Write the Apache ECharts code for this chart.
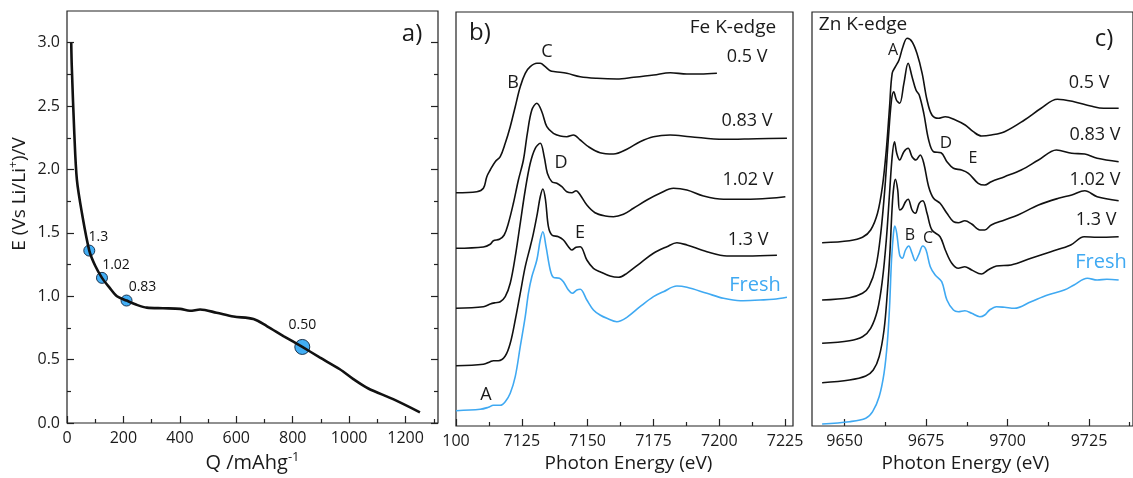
<!DOCTYPE html>
<html>
<head>
<meta charset="utf-8">
<script src="https://cdn.jsdelivr.net/npm/echarts@6/dist/echarts.min.js"></script>
<style>
  html, body { margin: 0; padding: 0; background: #fff; }
  #chart { width: 1133px; height: 478px; }
</style>
</head>
<body>
<div id="chart"></div>
<script>
// ---- a) discharge curve ----
var dischargeCurve = [
  [15, 3.0], [17, 2.81], [26, 2.28], [35, 1.92], [53, 1.655], [79, 1.36], [100, 1.24],
  [124, 1.145], [150, 1.07], [177, 1.0], [211, 0.966], [250, 0.93], [283, 0.91], [340, 0.905],
  [401, 0.9], [436, 0.885], [472, 0.895], [530, 0.87], [590, 0.84], [661, 0.82], [708, 0.765],
  [767, 0.686], [834, 0.6], [897, 0.516], [967, 0.424], [1015, 0.346], [1068, 0.272],
  [1156, 0.188], [1251, 0.084]
];
var markerQ = [79, 124, 211, 834];
var markerE = [1.36, 1.145, 0.966, 0.6];
var markerLabels = ['1.3', '1.02', '0.83', '0.50'];
var qTicks = [0, 200, 400, 600, 800, 1000, 1200];
var eTicks = [0, 0.5, 1.0, 1.5, 2.0, 2.5, 3.0];

// ---- b) Fe K-edge ----
var fe05 = [
  [7100, 2.333], [7107.9, 2.343], [7110.4, 2.377], [7111.7, 2.493], [7113, 2.56], [7114.9, 2.643],
  [7116.8, 2.693], [7118.7, 2.827], [7120.6, 2.993], [7122.5, 3.193], [7124.4, 3.393],
  [7126.3, 3.527], [7128.2, 3.593], [7130.7, 3.627], [7132, 3.627], [7133.9, 3.593],
  [7135.8, 3.553], [7137.7, 3.543], [7142.1, 3.527], [7147.2, 3.493], [7153.5, 3.477],
  [7161.1, 3.47], [7167.5, 3.487], [7175.1, 3.51], [7181.4, 3.533], [7187.7, 3.52],
  [7192.8, 3.52], [7199.1, 3.527]
];
var fe083 = [
  [7100, 1.777], [7110.4, 1.79], [7113, 1.817], [7114.2, 1.853], [7116.5, 1.867], [7118.3, 1.91],
  [7119.9, 2.027], [7121.8, 2.227], [7123.7, 2.46], [7125.6, 2.66], [7127.1, 2.927],
  [7128.8, 3.16], [7130.7, 3.227], [7132.6, 3.143], [7134.5, 2.993], [7137, 2.927],
  [7139.6, 2.9], [7142.1, 2.893], [7144.6, 2.91], [7147.2, 2.86], [7150.3, 2.793],
  [7154.7, 2.733], [7159.8, 2.72], [7164.9, 2.767], [7169.9, 2.843], [7175, 2.893],
  [7181.3, 2.91], [7188.9, 2.893], [7201.6, 2.867], [7214.3, 2.873], [7225.7, 2.877]
];
var fe102 = [
  [7100, 1.177], [7110.4, 1.193], [7113, 1.22], [7114.9, 1.233], [7116.8, 1.243], [7118.7, 1.293],
  [7120.6, 1.427], [7122.5, 1.693], [7124.4, 2.027], [7126.3, 2.36], [7128.2, 2.627],
  [7130.1, 2.777], [7132, 2.827], [7133.5, 2.693], [7134.7, 2.527], [7136.4, 2.443],
  [7138.3, 2.427], [7140.2, 2.393], [7142.1, 2.343], [7144, 2.333], [7145.6, 2.353],
  [7147.2, 2.31], [7149.7, 2.21], [7152.8, 2.133], [7156.7, 2.1], [7159.8, 2.093],
  [7163.6, 2.117], [7167.4, 2.177], [7172.5, 2.26], [7177.5, 2.327], [7182.6, 2.377],
  [7187.7, 2.36], [7194, 2.3], [7201.6, 2.267], [7214.3, 2.27], [7225.1, 2.293]
];
var fe13 = [
  [7100, 0.603], [7110.4, 0.617], [7113, 0.643], [7114.2, 0.653], [7116.1, 0.653], [7118.7, 0.7],
  [7120.6, 0.827], [7122.5, 1.06], [7124.4, 1.327], [7126.3, 1.593], [7128.2, 1.793],
  [7129.4, 1.927], [7130.9, 2.127], [7132, 2.293], [7133, 2.37], [7134, 2.26], [7135.1, 1.993],
  [7136.4, 1.91], [7138.9, 1.893], [7140.8, 1.86], [7142.7, 1.793], [7144, 1.76],
  [7145.6, 1.787], [7147.2, 1.793], [7149.7, 1.66], [7152.2, 1.577], [7154.7, 1.543],
  [7158.5, 1.5], [7161.7, 1.487], [7164.9, 1.527], [7169.9, 1.627], [7175, 1.727],
  [7180.1, 1.793], [7183.9, 1.833], [7187.7, 1.81], [7195.3, 1.743], [7202.9, 1.7],
  [7210.5, 1.7], [7221.9, 1.707]
];
var feFresh = [
  [7100, 0.153], [7109.2, 0.167], [7112.3, 0.187], [7114.2, 0.207], [7116.8, 0.207],
  [7118.7, 0.243], [7120.6, 0.327], [7122.5, 0.493], [7124.4, 0.793], [7126.3, 1.093],
  [7127.5, 1.327], [7128.8, 1.493], [7130.7, 1.66], [7132, 1.86], [7133, 1.943], [7134.2, 1.793],
  [7135.8, 1.56], [7137, 1.487], [7139.3, 1.477], [7140.8, 1.443], [7142.7, 1.36],
  [7144.2, 1.327], [7145.9, 1.36], [7147.2, 1.367], [7149.7, 1.26], [7152.2, 1.16],
  [7154.7, 1.11], [7157.3, 1.077], [7161.1, 1.043], [7164.9, 1.087], [7169.9, 1.193],
  [7175, 1.293], [7178.8, 1.343], [7183.9, 1.4], [7187.7, 1.387], [7195.3, 1.327],
  [7201.6, 1.277], [7208, 1.253], [7215.5, 1.26], [7220.6, 1.267], [7225.7, 1.287]
];
var feTicks = [7100, 7125, 7150, 7175, 7200, 7225];

// ---- c) Zn K-edge ----
var zn05 = [
  [9643.1, 1.833], [9651.5, 1.853], [9655.5, 1.887], [9658, 1.96], [9660.1, 2.127],
  [9661.6, 2.393], [9662.8, 2.76], [9663.8, 3.193], [9664.6, 3.527], [9665.6, 3.593],
  [9666.7, 3.66], [9667.9, 3.793], [9669.2, 3.877], [9670.7, 3.843], [9672.2, 3.727],
  [9673.8, 3.527], [9675.3, 3.26], [9676.8, 3.11], [9678.8, 3.077], [9680.9, 3.093],
  [9684, 3.06], [9687, 3.01], [9689.5, 2.943], [9692, 2.9], [9695, 2.91], [9699.1, 2.943],
  [9705.2, 3.06], [9710.3, 3.177], [9715.3, 3.267], [9720.4, 3.243], [9725.5, 3.2],
  [9729.5, 3.177], [9734.1, 3.177]
];
var zn083 = [
  [9643.1, 1.26], [9651.5, 1.283], [9655.5, 1.327], [9657.5, 1.393], [9659.6, 1.593],
  [9661.1, 1.927], [9662.4, 2.393], [9663.4, 2.86], [9664.4, 3.26], [9665.1, 3.343],
  [9665.9, 3.26], [9666.9, 3.227], [9668.2, 3.427], [9669.5, 3.627], [9670.7, 3.493],
  [9671.9, 3.36], [9672.9, 3.31], [9674.3, 3.127], [9675.8, 2.86], [9677.3, 2.743],
  [9679.6, 2.733], [9681.4, 2.643], [9683.4, 2.577], [9685.9, 2.56], [9688, 2.527],
  [9691, 2.427], [9693, 2.41], [9695, 2.443], [9699.1, 2.493], [9704.2, 2.56], [9709.5, 2.66],
  [9715, 2.76], [9719.7, 2.727], [9723.7, 2.72], [9727.5, 2.677], [9734.1, 2.643]
];
var zn102 = [
  [9643.1, 0.827], [9651.5, 0.853], [9655.5, 0.893], [9658, 0.977], [9660.1, 1.16],
  [9661.6, 1.46], [9662.8, 1.86], [9663.8, 2.327], [9664.6, 2.693], [9665.3, 2.843],
  [9666, 2.727], [9666.9, 2.66], [9668.2, 2.743], [9669.5, 2.777], [9670.7, 2.693],
  [9671.9, 2.66], [9673.2, 2.71], [9674.3, 2.627], [9675.8, 2.393], [9677.3, 2.277],
  [9679.3, 2.227], [9681.4, 2.127], [9683.4, 2.043], [9684.9, 2.033], [9686.9, 2.053],
  [9689, 2.02], [9691.5, 1.96], [9693, 1.96], [9695, 2.01], [9699.1, 2.06], [9703.2, 2.11],
  [9709.5, 2.21], [9715.6, 2.277], [9719.7, 2.31], [9723.7, 2.353], [9727.5, 2.293],
  [9734.1, 2.253]
];
var zn13 = [
  [9643.1, 0.433], [9651.5, 0.46], [9656.5, 0.5], [9658.8, 0.56], [9660.6, 0.693],
  [9662.1, 0.96], [9663.1, 1.327], [9663.9, 1.727], [9664.6, 2.193], [9665.1, 2.393],
  [9665.6, 2.467], [9666.3, 2.36], [9666.9, 2.16], [9667.7, 2.177], [9668.7, 2.243],
  [9669.5, 2.267], [9670.7, 2.16], [9671.7, 2.127], [9672.9, 2.227], [9674, 2.253],
  [9675.3, 2.127], [9676.8, 1.96], [9679.3, 1.893], [9680.9, 1.76], [9682.9, 1.627],
  [9684.9, 1.577], [9686.9, 1.593], [9689, 1.56], [9692, 1.52], [9694, 1.56], [9696.6, 1.6],
  [9701.1, 1.61], [9707.2, 1.677], [9713.3, 1.743], [9719.4, 1.81], [9723.5, 1.893],
  [9727.5, 1.887], [9734.1, 1.893]
];
var znFresh = [
  [9643.1, 0.02], [9651.5, 0.043], [9656.5, 0.077], [9658.6, 0.143], [9660.6, 0.293],
  [9662.1, 0.527], [9663.1, 0.827], [9663.8, 1.193], [9664.4, 1.66], [9665, 1.927],
  [9665.4, 2.0], [9666, 1.927], [9666.9, 1.71], [9667.7, 1.677], [9668.7, 1.76],
  [9669.7, 1.8], [9670.7, 1.727], [9671.7, 1.653], [9672.7, 1.71], [9674, 1.8], [9675, 1.76],
  [9676.3, 1.593], [9677.8, 1.51], [9679.8, 1.443], [9681.4, 1.26], [9683.4, 1.16],
  [9684.9, 1.143], [9686.9, 1.153], [9689, 1.127], [9691.5, 1.093], [9693, 1.11],
  [9694.5, 1.16], [9696.6, 1.193], [9699.1, 1.187], [9702.1, 1.177], [9707.2, 1.243],
  [9712.3, 1.31], [9717.4, 1.36], [9720.4, 1.41], [9724.5, 1.477], [9727.5, 1.46],
  [9730.5, 1.467], [9734.1, 1.46]
];
var znTicks = [9650, 9675, 9700, 9725];

var FONT = 'Open Sans';
var BLACK = '#111';
var BLUE = '#3FA9F2';
var TXT = '#1a1a1a';

function minorOf(ticks, lo, hi) {
  var step = ticks[1] - ticks[0];
  var out = [];
  for (var i = -1; i < ticks.length; i++) {
    var base = i < 0 ? ticks[0] - step : ticks[i];
    var v = base + step / 2;
    if (v > lo && v < hi) out.push(v);
  }
  return out;
}

var chart = echarts.init(document.getElementById('chart'));

function tickAxis(grid, pos, min, max, values, len, fmt, extra) {
  var ax = {
    type: 'value', gridIndex: grid, position: pos, min: min, max: max,
    axisLine: { show: false, onZero: false },
    splitLine: { show: false },
    axisTick: { show: true, inside: true, length: len, customValues: values,
                lineStyle: { color: '#222', width: 1.2 } },
    axisLabel: { show: !!fmt, customValues: values, color: TXT, formatter: fmt || undefined,
                 fontFamily: FONT, fontSize: 16, margin: 7 }
  };
  return Object.assign(ax, extra || {});
}

function hiddenY(grid, max) {
  return { type: 'value', gridIndex: grid, min: 0, max: max, show: false, splitLine: { show: false } };
}

function spectrum(data, color, xi, yi) {
  return {
    type: 'line', data: data, xAxisIndex: xi, yAxisIndex: yi, smooth: 0.35,
    showSymbol: false, silent: true,
    lineStyle: { color: color, width: 1.6 }
  };
}

var plain = function (v) { return String(v); };
var feFmt = function (v) { return v === 7100 ? '100' : String(v); };
var oneDec = function (v) { return v.toFixed(1); };

var labelOffsets = [[9, 4], [14, 5], [16, 4], [0, -2]];

var markerData = markerQ.map(function (q, i) {
  return {
    value: [q, markerE[i]],
    symbolSize: i === 3 ? 15 : 11,
    label: { show: true, formatter: markerLabels[i], position: 'top', offset: labelOffsets[i],
             color: '#111', fontFamily: FONT, fontSize: 14 }
  };
});

function txt(x, y, s, size, color, extra) {
  return Object.assign({
    type: 'text', x: x, y: y, silent: true,
    style: { text: s, fontFamily: FONT, fontSize: size, fill: color || TXT,
             align: 'center', verticalAlign: 'middle' }
  }, extra || {});
}

chart.setOption({
  backgroundColor: '#fff',
  animation: false,
  grid: [
    { left: 67, top: 11, width: 371, height: 414, show: true, borderColor: '#222', borderWidth: 1.2 },
    { left: 456, top: 12, width: 337, height: 414, show: true, borderColor: '#222', borderWidth: 1.2 },
    { left: 812, top: 12, width: 324, height: 414, show: true, borderColor: '#222', borderWidth: 1.2 }
  ],
  xAxis: [
    tickAxis(0, 'bottom', 0, 1315, qTicks, 7, plain, {
      name: '{t|Q /mAhg}{s|-1}', nameLocation: 'middle', nameGap: 28,
      nameTextStyle: { rich: {
        t: { fontFamily: FONT, fontSize: 20, color: TXT, lineHeight: 24 },
        s: { fontFamily: FONT, fontSize: 13, color: TXT, verticalAlign: 'top', lineHeight: 24 }
      } }
    }),
    tickAxis(0, 'bottom', 0, 1315, minorOf(qTicks, 0, 1315), 4, null),
    tickAxis(1, 'bottom', 7100, 7228, feTicks, 7, feFmt, {
      name: 'Photon Energy (eV)', nameLocation: 'middle', nameGap: 28,
      nameTextStyle: { fontFamily: FONT, fontSize: 19, color: TXT, padding: [0, 0, 0, 8] }
    }),
    tickAxis(1, 'bottom', 7100, 7228, minorOf(feTicks, 7100, 7228), 4, null),
    tickAxis(2, 'bottom', 9640, 9738.5, znTicks, 7, plain, {
      name: 'Photon Energy (eV)', nameLocation: 'middle', nameGap: 28,
      nameTextStyle: { fontFamily: FONT, fontSize: 19, color: TXT, padding: [0, 14, 0, 0] }
    }),
    tickAxis(2, 'bottom', 9640, 9738.5, minorOf(znTicks, 9640, 9738.5), 4, null)
  ],
  yAxis: [
    tickAxis(0, 'left', 0, 3.25, eTicks, 7, oneDec),
    tickAxis(0, 'left', 0, 3.25, minorOf(eTicks, 0, 3.25), 4, null),
    tickAxis(0, 'right', 0, 3.25, eTicks, 7, null),
    tickAxis(0, 'right', 0, 3.25, minorOf(eTicks, 0, 3.25), 4, null),
    hiddenY(1, 4.14),
    hiddenY(2, 4.14)
  ],
  series: [
    {
      type: 'line', data: dischargeCurve, xAxisIndex: 0, yAxisIndex: 0, smooth: 0.3,
      showSymbol: false, silent: true, lineStyle: { color: BLACK, width: 2.6 }
    },
    {
      type: 'scatter', data: markerData, xAxisIndex: 0, yAxisIndex: 0, silent: true,
      itemStyle: { color: '#42AEF5', borderColor: '#1c3550', borderWidth: 1, opacity: 1 }
    },
    spectrum(fe05, BLACK, 2, 4),
    spectrum(fe083, BLACK, 2, 4),
    spectrum(fe102, BLACK, 2, 4),
    spectrum(fe13, BLACK, 2, 4),
    spectrum(feFresh, BLUE, 2, 4),
    spectrum(zn05, BLACK, 4, 5),
    spectrum(zn083, BLACK, 4, 5),
    spectrum(zn102, BLACK, 4, 5),
    spectrum(zn13, BLACK, 4, 5),
    spectrum(znFresh, BLUE, 4, 5)
  ],
  graphic: [
    // panel a
    txt(412, 34, 'a)', 24),
    {
      type: 'text', x: 20, y: 194, rotation: Math.PI / 2, silent: true,
      style: {
        text: '{t|E (Vs Li/Li}{s|+}{t|)/V}', align: 'center', verticalAlign: 'middle',
        rich: {
          t: { fontFamily: FONT, fontSize: 19, fill: TXT, lineHeight: 24 },
          s: { fontFamily: FONT, fontSize: 12, fill: TXT, verticalAlign: 'top', lineHeight: 24 }
        }
      }
    },
    // panel b
    txt(480, 33, 'b)', 24),
    txt(733, 28, 'Fe K-edge', 19),
    txt(747, 57, '0.5 V', 18),
    txt(747, 121, '0.83 V', 18),
    txt(748, 180, '1.02 V', 18),
    txt(748, 240, '1.3 V', 18),
    txt(755, 285, 'Fresh', 20, BLUE),
    txt(547, 52, 'C', 18),
    txt(513, 83, 'B', 18),
    txt(561, 163, 'D', 18),
    txt(580, 233, 'E', 18),
    txt(486, 395, 'A', 18),
    // panel c
    txt(863, 25, 'Zn K-edge', 19),
    txt(1104, 39, 'c)', 24),
    txt(893, 50, 'A', 16),
    txt(1089, 83, '0.5 V', 18),
    txt(1095, 135, '0.83 V', 18),
    txt(1095, 180, '1.02 V', 18),
    txt(1096, 220, '1.3 V', 18),
    txt(1101, 262, 'Fresh', 20, BLUE),
    txt(946, 143, 'D', 17),
    txt(973, 158, 'E', 16),
    txt(910, 235, 'B', 16),
    txt(928, 238, 'C', 16)
  ]
});

window.addEventListener('resize', function () { chart.resize(); });
</script>
</body>
</html>
